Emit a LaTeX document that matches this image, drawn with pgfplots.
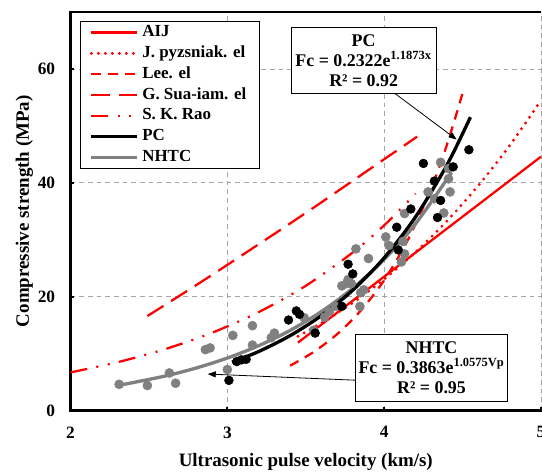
\documentclass[border=0pt]{standalone}
\usepackage{fontspec}
\setmainfont{Liberation Serif}
\usepackage{pgfplots}
\pgfplotsset{compat=1.18}
\usetikzlibrary{arrows.meta}
\definecolor{mygray}{RGB}{128,128,128}
\definecolor{gridgray}{RGB}{165,165,165}
\begin{document}
\begin{tikzpicture}
\begin{axis}[
  scale only axis, width=352.9pt, height=298.95pt,
  xmin=2, xmax=5, ymin=0, ymax=70,
  xtick={2,3,4,5}, ytick={0,20,40,60},
  axis x line*=bottom, axis y line*=left,
  axis line style={line width=2pt, black, line cap=rect},
  tick align=inside, major tick length=2.5pt,
  tick style={black, line width=1.5pt},
  grid=major,
  grid style={gridgray, line width=0.6pt, dash pattern=on 3.5pt off 3pt},
  /pgf/number format/assume math mode=true,
  ticklabel style={font=\bfseries\fontsize{13}{15}\selectfont},
  yticklabel style={xshift=-8pt},
  xticklabel style={yshift=-8.5pt},
  xlabel={Ultrasonic pulse velocity (km/s)},
  ylabel={Compressive strength (MPa)},
  label style={font=\bfseries\fontsize{14.2}{17}\selectfont},
  xlabel style={at={(axis description cs:0.5,-0.1288)}, anchor=center},
  ylabel style={at={(axis description cs:-0.0978,0.5)}, anchor=center},
  legend style={at={(0.02,0.977)}, anchor=north west, draw=black, line width=0.6pt,
    fill=white, font=\bfseries\fontsize{12.7}{15}\selectfont,
    inner xsep=7pt, inner ysep=0.5pt,
    nodes={inner xsep=3pt, inner ysep=0pt, text height=10.9pt, text depth=4.7pt}},
  legend cell align=left,
  legend image code/.code={\draw[#1] (0pt,0pt) -- (34pt,0pt);},
]
% legend images
\addlegendimage{red, line width=1.7pt}
\addlegendentry{AIJ}
\addlegendimage{red, line width=2.4pt, line cap=round, dash pattern=on 0pt off 5.25pt}
\addlegendentry{J. pyzsniak. el}
\addlegendimage{red, line width=1.7pt, dash pattern=on 7.2pt off 5.5pt}
\addlegendentry{Lee. el}
\addlegendimage{red, line width=1.7pt, dash pattern=on 14.25pt off 6.75pt}
\addlegendentry{G. Sua-iam. el}
\addlegendimage{red, line width=1.7pt, dash pattern=on 12.75pt off 7pt on 1.5pt off 7.3pt on 1.5pt off 7pt}
\addlegendentry{S. K. Rao}
\addlegendimage{black, line width=2.5pt}
\addlegendentry{PC}
\addlegendimage{mygray, line width=2.5pt}
\addlegendentry{NHTC}

% AIJ
\addplot[forget plot, red, line width=1.7pt] coordinates {(3.45,11.93) (5.0,44.59)};
% J. Pyszniak
\addplot[forget plot, red, line width=2.4pt, line cap=round, dash pattern=on 0pt off 5.25pt, smooth] coordinates {
(3.45,13.05) (3.6,15.38) (3.8,18.93) (4.0,23.07) (4.2,27.83) (4.4,33.29) (4.6,39.51) (4.8,46.54) (5.0,54.47)};
% Lee
\addplot[forget plot, red, line width=1.7pt, dash pattern=on 7.2pt off 5.5pt, smooth] coordinates {
(3.40,7.87) (3.55,10.28) (3.70,13.42) (3.85,17.53) (4.00,22.89) (4.15,29.90) (4.30,39.05) (4.40,46.66) (4.50,55.75)};
% G. Sua-iam
\addplot[forget plot, red, line width=1.7pt, dash pattern=on 14.25pt off 6.75pt, smooth] coordinates {
(2.49,16.6) (2.8,22.0) (3.15,28.3) (3.5,34.7) (3.855,41.4) (4.21,48.1)};
% S. K. Rao
\addplot[forget plot, red, line width=1.7pt, dash pattern=on 12.75pt off 7pt on 1.5pt off 7.3pt on 1.5pt off 7pt, smooth] coordinates {
(2.0,6.70) (2.3,8.49) (2.6,10.76) (2.9,13.64) (3.2,17.29) (3.5,21.91) (3.8,27.77) (4.0,32.53) (4.2,38.10)};

% NHTC data
\addplot[forget plot, only marks, mark=*, mark size=3.4pt, mygray, mark options={draw=mygray, fill=mygray}] coordinates {
(2.31,4.6) (2.49,4.4) (2.63,6.6) (2.67,4.8) (2.86,10.7) (2.89,11.0) (3.00,7.2) (3.035,13.2)
(3.16,14.9) (3.16,11.5) (3.28,12.8) (3.30,13.6) (3.49,16.3) (3.55,14.1) (3.62,16.4) (3.65,17.4)
(3.69,18.3) (3.73,21.9) (3.76,22.3) (3.77,23.0) (3.79,22.3) (3.82,28.4) (3.845,18.3) (3.85,20.7)
(3.87,21.2) (3.90,26.7) (4.01,30.5) (4.03,29.0) (4.11,26.1) (4.12,29.7) (4.13,27.5) (4.13,34.6)
(4.28,38.4) (4.32,37.2) (4.36,43.6) (4.38,34.7) (4.41,40.7) (4.42,38.4) (4.41,42.5)};
% PC data
\addplot[forget plot, only marks, mark=*, mark size=3.3pt, black] coordinates {
(3.01,5.3) (3.06,8.6) (3.09,8.9) (3.12,9.0) (3.39,15.9) (3.44,17.5) (3.46,16.9) (3.56,13.6)
(3.73,18.3) (3.77,25.7) (3.80,24.0) (4.08,32.2) (4.09,28.2) (4.17,35.4) (4.25,43.4) (4.32,40.3)
(4.34,33.9) (4.36,36.9) (4.44,42.8) (4.54,45.8)};

% NHTC fit
\addplot[forget plot, mygray, line width=2.5pt, smooth] coordinates {
(2.32,4.49) (2.6,6.04) (2.8,7.46) (3.0,9.22) (3.2,11.39) (3.4,14.07) (3.6,17.39) (3.8,21.49)
(4.0,26.55) (4.2,32.80) (4.43,41.83)};
% PC fit
\addplot[forget plot, black, line width=2.5pt, smooth] coordinates {
(3.03,8.48) (3.2,10.37) (3.4,13.15) (3.6,16.68) (3.8,21.15) (4.0,26.82) (4.2,34.01) (4.4,43.12) (4.55,51.53)};

% frame top and right
\draw[line width=2pt] (rel axis cs:0,1) -- (rel axis cs:1,1);
\draw[mygray, line width=0.75pt] (rel axis cs:1,0) -- (rel axis cs:1,1);

% arrows
\draw[-{Triangle[length=6pt,width=4.5pt]}, line width=0.6pt] (axis cs:4.068,55.7) -- (axis cs:4.462,47.6);
\draw[-{Triangle[length=6pt,width=4.5pt]}, line width=0.6pt] (axis cs:3.834,5.31) -- (axis cs:2.875,6.41);

% annotation boxes
\node[draw=black, line width=0.6pt, fill=white, align=center, inner sep=2pt,
  minimum width=109pt, minimum height=49.5pt,
  font=\bfseries\fontsize{13.4}{15}\selectfont] at (axis cs:3.869,61.5)
  {PC\\Fc = 0.2322e\textsuperscript{1.1873x}\\R² = 0.92};
\node[draw=black, line width=0.6pt, fill=white, align=center, inner sep=2pt,
  minimum width=110pt, minimum height=50pt,
  font=\bfseries\fontsize{13.4}{15}\selectfont] at (axis cs:4.302,7.46)
  {NHTC\\Fc = 0.3863e\textsuperscript{1.0575Vp}\\R² = 0.95};
\end{axis}
\pgfresetboundingbox
\path[use as bounding box] ([shift={(-52.9pt,-46.05pt)}]current axis.south west) rectangle ([shift={(0.75pt,9pt)}]current axis.north east);
\end{tikzpicture}
\end{document}
